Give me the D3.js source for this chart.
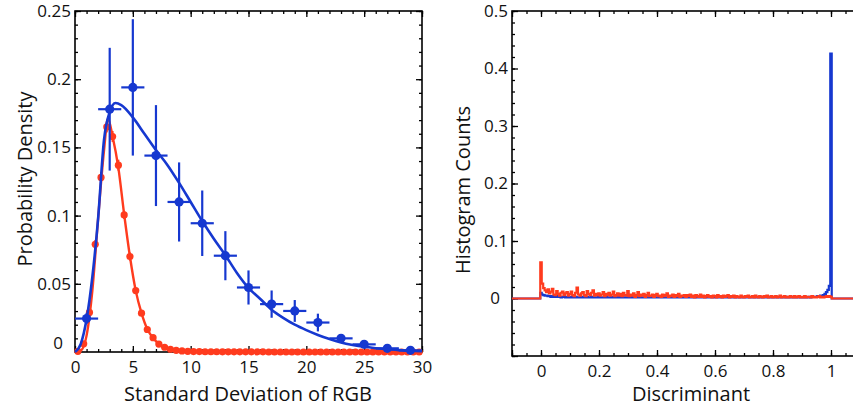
<!DOCTYPE html>
<html>
<head>
<meta charset="utf-8">
<script src="https://cdn.jsdelivr.net/npm/d3@7"></script>
<style>
body { margin: 0; background: #fff; }
text { font-family: "Open Sans", sans-serif; fill: #111; }
</style>
</head>
<body>
<svg id="chart" width="853" height="409"></svg>
<script>
// ---- left panel: measured points ----
var blueX = [1, 3, 5, 7, 9, 11, 13, 15, 17, 19, 21, 23, 25, 27, 29];
var blueY = [0.0245, 0.178, 0.194, 0.144, 0.110, 0.0944, 0.0706, 0.0473, 0.0351, 0.0301, 0.0216, 0.0100, 0.0056, 0.0027, 0.0012];
var blueYErr = [0.004, 0.045, 0.050, 0.037, 0.029, 0.024, 0.018, 0.0125, 0.010, 0.008, 0.0065, 0.003, 0.002, 0.0015, 0.001];
var blueXErr = [1, 1, 1, 1, 1, 1, 1, 1, 1, 1, 1, 1, 1, 1, 1];

var redX = [0.25, 0.75, 1.25, 1.75, 2.25, 2.75, 3.25, 3.75, 4.25, 4.75, 5.25, 5.75, 6.25, 6.75, 7.25, 7.75, 8.25, 8.75, 9.25, 9.75,
  10.25, 10.75, 11.25, 11.75, 12.25, 12.75, 13.25, 13.75, 14.25, 14.75, 15.25, 15.75, 16.25, 16.75, 17.25, 17.75, 18.25, 18.75, 19.25, 19.75,
  20.25, 20.75, 21.25, 21.75, 22.25, 22.75, 23.25, 23.75, 24.25, 24.75, 25.25, 25.75, 26.25, 26.75, 27.25, 27.75, 28.25, 28.75, 29.25, 29.75];
var redY = [0.0005, 0.006, 0.029, 0.079, 0.128, 0.165, 0.158, 0.137, 0.1005, 0.070, 0.045, 0.0285, 0.0165, 0.0105, 0.0058, 0.0035, 0.002, 0.0012, 0.0008, 0.0005,
  0.0003, 0.0003, 0.0002, 0.0002, 0.0002, 0.0001, 0.0001, 0.0001, 0.0001, 0.0001, 0.0001, 0.0001, 0.0001, 0, 0, 0, 0, 0, 0, 0,
  0, 0, 0, 0, 0, 0, 0, 0, 0, 0, 0, 0, 0, 0, 0, 0, 0, 0, 0, 0];
var redYErr = [0.0005, 0.001, 0.002, 0.003, 0.004, 0.004, 0.004, 0.004, 0.003, 0.003, 0.002, 0.002, 0.0015, 0.001, 0.001, 0.0008, 0.0005, 0.0005, 0.0004, 0.0003,
  0.0002, 0.0002, 0.0002, 0.0002, 0.0002, 0.0002, 0.0002, 0.0002, 0.0002, 0.0002, 0.0002, 0.0002, 0.0002, 0.0002, 0.0002, 0.0002, 0.0002, 0.0002, 0.0002, 0.0002,
  0.0002, 0.0002, 0.0002, 0.0002, 0.0002, 0.0002, 0.0002, 0.0002, 0.0002, 0.0002, 0.0002, 0.0002, 0.0002, 0.0002, 0.0002, 0.0002, 0.0002, 0.0002, 0.0002, 0.0002];

// ---- left panel: fitted curves ----
var blueCurveX = [0, 0.5, 1, 1.5, 2, 2.5, 3, 3.5, 4, 5, 6, 7, 8, 9, 10, 11, 12, 13, 14, 15, 16, 17, 18, 19, 20, 21, 22, 23, 24, 25, 26, 27, 28, 29, 30];
var blueCurveY = [0, 0.006, 0.024, 0.055, 0.098, 0.155, 0.176, 0.1825, 0.181, 0.172, 0.160, 0.148, 0.137, 0.124, 0.110, 0.096, 0.083, 0.071, 0.058, 0.047,
  0.039, 0.031, 0.025, 0.020, 0.016, 0.0125, 0.0095, 0.007, 0.0052, 0.0038, 0.0028, 0.002, 0.0014, 0.0009, 0.0006];
var redCurveX = [0, 0.5, 1, 1.5, 2, 2.5, 2.85, 3.25, 3.75, 4.25, 4.75, 5.25, 5.75, 6.25, 6.75, 7.25, 7.75, 8.25, 9, 10, 12, 15, 20, 30];
var redCurveY = [0, 0.001, 0.012, 0.045, 0.098, 0.147, 0.171, 0.158, 0.135, 0.101, 0.070, 0.045, 0.0285, 0.0168, 0.0102, 0.006, 0.0035, 0.002, 0.0009, 0.0003, 0.0001, 0, 0, 0];

// ---- right panel: histograms, one value per bin (bin centres 0, 0.005 ... 1) ----
var histRed = [
  0.063, 0.026, 0.018, 0.014, 0.011, 0.016, 0.009, 0.012, 0.017, 0.007, 0.006, 0.013, 0.008, 0.005, 0.010, 0.012, 0.006, 0.009, 0.011, 0.005,
  0.008, 0.012, 0.006, 0.004, 0.010, 0.019, 0.007, 0.005, 0.009, 0.011, 0.006, 0.004, 0.013, 0.008, 0.006, 0.010, 0.014, 0.005, 0.008, 0.006,
  0.009, 0.005, 0.007, 0.011, 0.004, 0.008, 0.006, 0.010, 0.005, 0.007, 0.012, 0.004, 0.006, 0.009, 0.005, 0.008, 0.004, 0.010, 0.006, 0.005,
  0.013, 0.004, 0.007, 0.005, 0.009, 0.003, 0.006, 0.011, 0.004, 0.007, 0.005, 0.008, 0.003, 0.006, 0.010, 0.004, 0.005, 0.007, 0.003, 0.006,
  0.008, 0.004, 0.005, 0.003, 0.007, 0.004, 0.006, 0.009, 0.003, 0.005, 0.004, 0.007, 0.003, 0.006, 0.004, 0.008, 0.003, 0.005, 0.004, 0.006,
  0.003, 0.006, 0.004, 0.007, 0.003, 0.005, 0.002, 0.006, 0.004, 0.003, 0.007, 0.003, 0.005, 0.002, 0.004, 0.006, 0.003, 0.004, 0.002, 0.005,
  0.004, 0.002, 0.006, 0.003, 0.004, 0.002, 0.005, 0.003, 0.004, 0.006, 0.002, 0.004, 0.003, 0.005, 0.002, 0.004, 0.003, 0.002, 0.005, 0.003,
  0.002, 0.004, 0.003, 0.005, 0.002, 0.003, 0.004, 0.002, 0.005, 0.003, 0.002, 0.004, 0.003, 0.002, 0.004, 0.003, 0.005, 0.002, 0.003, 0.004,
  0.002, 0.003, 0.004, 0.002, 0.003, 0.005, 0.002, 0.003, 0.004, 0.002, 0.003, 0.002, 0.004, 0.003, 0.002, 0.004, 0.002, 0.003, 0.004, 0.002,
  0.003, 0.002, 0.004, 0.002, 0.003, 0.003, 0.002, 0.004, 0.002, 0.003, 0.002, 0.003, 0.004, 0.002, 0.003, 0.002, 0.003, 0.004, 0.003, 0.004,
  0.003];
var histBlue = [
  0.010, 0.007, 0.006, 0.005, 0.005, 0.004, 0.004, 0.003, 0.004, 0.003, 0.003, 0.004, 0.003, 0.003, 0.002, 0.003, 0.003, 0.002, 0.003, 0.002,
  0.002, 0.003, 0.002, 0.002, 0.003, 0.002, 0.002, 0.002, 0.003, 0.002, 0.002, 0.002, 0.003, 0.002, 0.002, 0.003, 0.002, 0.002, 0.002, 0.002,
  0.003, 0.002, 0.002, 0.002, 0.002, 0.003, 0.002, 0.002, 0.002, 0.003, 0.002, 0.002, 0.002, 0.002, 0.003, 0.002, 0.002, 0.002, 0.002, 0.002,
  0.002, 0.002, 0.003, 0.002, 0.002, 0.002, 0.002, 0.002, 0.003, 0.002, 0.002, 0.002, 0.002, 0.002, 0.002, 0.003, 0.002, 0.002, 0.002, 0.002,
  0.002, 0.002, 0.002, 0.002, 0.003, 0.002, 0.002, 0.002, 0.002, 0.002, 0.002, 0.002, 0.003, 0.002, 0.002, 0.002, 0.002, 0.002, 0.002, 0.002,
  0.002, 0.002, 0.002, 0.003, 0.002, 0.002, 0.002, 0.002, 0.002, 0.002, 0.002, 0.003, 0.002, 0.002, 0.002, 0.002, 0.002, 0.002, 0.003, 0.002,
  0.002, 0.002, 0.002, 0.002, 0.002, 0.003, 0.002, 0.002, 0.002, 0.002, 0.002, 0.002, 0.002, 0.003, 0.002, 0.002, 0.002, 0.002, 0.002, 0.002,
  0.002, 0.003, 0.002, 0.002, 0.002, 0.002, 0.002, 0.002, 0.002, 0.002, 0.003, 0.002, 0.002, 0.002, 0.002, 0.002, 0.002, 0.003, 0.002, 0.002,
  0.002, 0.002, 0.002, 0.002, 0.003, 0.002, 0.002, 0.002, 0.002, 0.003, 0.002, 0.002, 0.002, 0.003, 0.002, 0.002, 0.002, 0.002, 0.003, 0.002,
  0.002, 0.002, 0.003, 0.002, 0.002, 0.003, 0.002, 0.003, 0.003, 0.003, 0.003, 0.004, 0.004, 0.005, 0.005, 0.006, 0.008, 0.011, 0.015, 0.022,
  0.426];

var leftXTicks = [0, 5, 10, 15, 20, 25, 30];
var leftYTicks = [0, 0.05, 0.1, 0.15, 0.2, 0.25];
var rightXTicks = [0, 0.2, 0.4, 0.6, 0.8, 1];
var rightYTicks = [0, 0.1, 0.2, 0.3, 0.4, 0.5];

var blue = "#1638d0";
var red = "#ff3b1e";

var svg = d3.select("#chart");

function axes(g, x, y, w, h, xt, xm, yt, ym, xLab, yLab) {
  var fmt = d3.format("~g");
  g.append("g").attr("transform", `translate(0,${h})`)
    .call(d3.axisBottom(x).tickValues(xm).tickSize(-3).tickFormat(""));
  g.append("g").attr("transform", `translate(0,${h})`)
    .call(d3.axisBottom(x).tickValues(xt).tickSize(-6).tickPadding(9)
      .tickFormat(d => xLab.indexOf(d) >= 0 ? fmt(d) : ""));
  g.append("g").call(d3.axisTop(x).tickValues(xm).tickSize(-3).tickFormat(""));
  g.append("g").call(d3.axisTop(x).tickValues(xt).tickSize(-6).tickFormat(""));
  g.append("g").call(d3.axisLeft(y).tickValues(ym).tickSize(-3).tickFormat(""));
  g.append("g").call(d3.axisLeft(y).tickValues(yt).tickSize(-6).tickPadding(4)
      .tickFormat(d => yLab.indexOf(d) >= 0 ? fmt(d) : ""))
    .attr("class", "yax");
  g.append("g").attr("transform", `translate(${w},0)`)
    .call(d3.axisRight(y).tickValues(ym).tickSize(-3).tickFormat(""));
  g.append("g").attr("transform", `translate(${w},0)`)
    .call(d3.axisRight(y).tickValues(yt).tickSize(-6).tickFormat(""));
  g.selectAll(".domain").remove();
  g.selectAll(".tick line").attr("stroke", "#000").attr("stroke-width", 1.3);
  g.selectAll(".tick text").style("font-size", "17px").style("font-family", "'Open Sans', sans-serif");
  // the zero label on the y axis sits a little further left
  g.selectAll(".yax .tick text").filter(d => d === 0).attr("dx", "-8");
  g.append("rect").attr("width", w).attr("height", h)
    .attr("fill", "none").attr("stroke", "#000").attr("stroke-width", 1.6);
}

// ================= left panel =================
var lw = 347, lh = 341;
var left = svg.append("g").attr("transform", "translate(75,11)");
var x1 = d3.scaleLinear().domain([0, 30]).range([0, lw]);
var y1 = d3.scaleLinear().domain([0, 0.25]).range([lh, 0]);

axes(left, x1, y1, lw, lh, leftXTicks, d3.range(0, 31, 1), leftYTicks, d3.range(0, 0.2501, 0.01), leftXTicks, leftYTicks);
left.selectAll(".yax .tick text").filter(d => d === 0).attr("dy", "-0.2em");

var line1 = d3.line().x(d => x1(d[0])).y(d => y1(d[1])).curve(d3.curveMonotoneX);

// red
left.append("path").datum(d3.zip(redCurveX, redCurveY))
  .attr("d", line1).attr("fill", "none").attr("stroke", red).attr("stroke-width", 2.4);
var redPts = d3.zip(redX, redY, redYErr);
left.selectAll("line.rerr").data(redPts).enter().append("line")
  .attr("x1", d => x1(d[0])).attr("x2", d => x1(d[0]))
  .attr("y1", d => y1(d[1] - d[2])).attr("y2", d => y1(d[1] + d[2]))
  .attr("stroke", red).attr("stroke-width", 2);
left.selectAll("circle.rpt").data(redPts).enter().append("circle")
  .attr("cx", d => x1(d[0])).attr("cy", d => y1(d[1]))
  .attr("r", 3.6).attr("fill", red);

// blue
left.append("path").datum(d3.zip(blueCurveX, blueCurveY))
  .attr("d", line1).attr("fill", "none").attr("stroke", blue).attr("stroke-width", 2.6);
var bluePts = d3.zip(blueX, blueY, blueXErr, blueYErr);
left.selectAll("line.bx").data(bluePts).enter().append("line")
  .attr("x1", d => x1(d[0] - d[2])).attr("x2", d => x1(d[0] + d[2]))
  .attr("y1", d => y1(d[1])).attr("y2", d => y1(d[1]))
  .attr("stroke", blue).attr("stroke-width", 2.2);
left.selectAll("line.by").data(bluePts).enter().append("line")
  .attr("x1", d => x1(d[0])).attr("x2", d => x1(d[0]))
  .attr("y1", d => y1(d[1] - d[3])).attr("y2", d => y1(d[1] + d[3]))
  .attr("stroke", blue).attr("stroke-width", 2.2);
left.selectAll("circle.bpt").data(bluePts).enter().append("circle")
  .attr("cx", d => x1(d[0])).attr("cy", d => y1(d[1]))
  .attr("r", 4.6).attr("fill", blue);

svg.append("text").attr("transform", "translate(32,179) rotate(-90)")
  .attr("text-anchor", "middle").style("font-size", "20px").text("Probability Density");
svg.append("text").attr("x", 248).attr("y", 401)
  .attr("text-anchor", "middle").style("font-size", "20px").text("Standard Deviation of RGB");

// ================= right panel =================
var rw = 348, rh = 345;
var right = svg.append("g").attr("transform", "translate(512,11)");
var x2 = d3.scaleLinear().domain([-0.1, 1.1]).range([0, rw]);
var y2 = d3.scaleLinear().domain([-0.1, 0.5]).range([rh, 0]);

axes(right, x2, y2, rw, rh, [-0.1].concat(rightXTicks), d3.range(-0.1, 1.1001, 0.05),
  [-0.1].concat(rightYTicks), d3.range(-0.1, 0.5001, 0.02), rightXTicks, rightYTicks);

var binCentres = d3.range(histRed.length).map(i => i / 200);
function histPoints(vals) {
  return [[-0.1, 0], [-0.005, 0]].concat(vals.map((v, i) => [binCentres[i], v])).concat([[1.005, 0], [1.1, 0]]);
}
var line2 = d3.line().x(d => x2(d[0])).y(d => y2(d[1])).curve(d3.curveStep);

right.append("path").datum(histPoints(histBlue))
  .attr("d", line2).attr("fill", "none").attr("stroke", blue).attr("stroke-width", 2.2);
right.append("path").datum(histPoints(histRed))
  .attr("d", line2).attr("fill", "none").attr("stroke", red).attr("stroke-width", 2.2);

svg.append("text").attr("transform", "translate(470,190) rotate(-90)")
  .attr("text-anchor", "middle").style("font-size", "20px").text("Histogram Counts");
svg.append("text").attr("x", 691).attr("y", 401)
  .attr("text-anchor", "middle").style("font-size", "20px").text("Discriminant");
</script>
</body>
</html>
